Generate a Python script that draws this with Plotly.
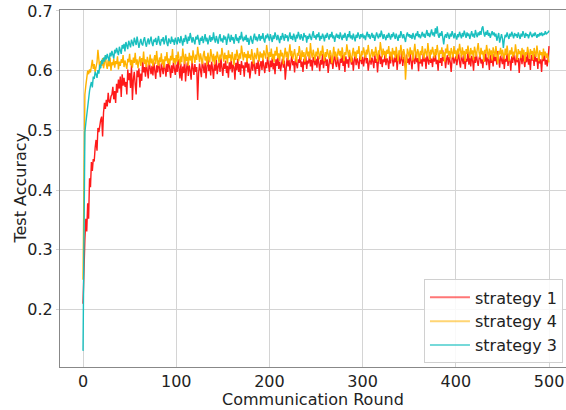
import plotly.graph_objects as go

rounds = list(range(0, 501))

strategy_1 = [
0.210, 0.283, 0.318, 0.352, 0.331, 0.378, 0.352, 0.420, 0.405, 0.447, 0.432, 0.452, 0.448, 0.471, 0.484, 0.466, 0.504, 0.497, 0.512, 0.518, 0.523, 0.490, 0.530, 0.546, 0.536,
0.551, 0.540, 0.563, 0.548, 0.546, 0.557, 0.560, 0.573, 0.552, 0.566, 0.546, 0.578, 0.563, 0.585, 0.570, 0.590, 0.556, 0.594, 0.575, 0.588, 0.573, 0.581, 0.560, 0.602, 0.584,
0.596, 0.571, 0.609, 0.551, 0.585, 0.598, 0.577, 0.560, 0.600, 0.589, 0.604, 0.572, 0.595, 0.583, 0.618, 0.597, 0.606, 0.590, 0.612, 0.599, 0.587, 0.615, 0.603, 0.594, 0.608,
0.592, 0.614, 0.600, 0.586, 0.609, 0.597, 0.617, 0.604, 0.589, 0.612, 0.601, 0.594, 0.616, 0.605, 0.590, 0.611, 0.598, 0.620, 0.603, 0.588, 0.609, 0.596, 0.614, 0.601, 0.593,
0.610, 0.598, 0.619, 0.604, 0.587, 0.612, 0.583, 0.607, 0.596, 0.621, 0.582, 0.603, 0.614, 0.591, 0.609, 0.600, 0.585, 0.616, 0.602, 0.593, 0.611, 0.598, 0.606, 0.551, 0.595,
0.612, 0.601, 0.589, 0.617, 0.604, 0.596, 0.613, 0.587, 0.608, 0.620, 0.599, 0.610, 0.592, 0.615, 0.603, 0.586, 0.611, 0.600, 0.618, 0.594, 0.607, 0.613, 0.598, 0.621, 0.605,
0.591, 0.612, 0.603, 0.617, 0.596, 0.608, 0.588, 0.614, 0.602, 0.619, 0.597, 0.610, 0.606, 0.585, 0.613, 0.601, 0.620, 0.598, 0.611, 0.593, 0.616, 0.604, 0.609, 0.590, 0.614,
0.605, 0.619, 0.597, 0.612, 0.587, 0.608, 0.615, 0.600, 0.622, 0.606, 0.594, 0.613, 0.603, 0.618, 0.591, 0.609, 0.616, 0.601, 0.620, 0.607, 0.596, 0.614, 0.604, 0.623, 0.610,
0.598, 0.617, 0.606, 0.621, 0.602, 0.613, 0.594, 0.619, 0.608, 0.625, 0.603, 0.615, 0.599, 0.611, 0.620, 0.605, 0.617, 0.585, 0.612, 0.622, 0.607, 0.618, 0.600, 0.614, 0.626,
0.609, 0.616, 0.597, 0.621, 0.611, 0.604, 0.619, 0.613, 0.627, 0.606, 0.615, 0.598, 0.620, 0.610, 0.624, 0.603, 0.617, 0.612, 0.629, 0.607, 0.618, 0.600, 0.623, 0.614, 0.609,
0.620, 0.605, 0.625, 0.613, 0.599, 0.618, 0.610, 0.628, 0.604, 0.616, 0.622, 0.608, 0.619, 0.596, 0.614, 0.626, 0.611, 0.621, 0.603, 0.617, 0.630, 0.612, 0.606, 0.623, 0.615,
0.601, 0.620, 0.613, 0.627, 0.608, 0.618, 0.598, 0.624, 0.612, 0.619, 0.605, 0.629, 0.615, 0.610, 0.622, 0.600, 0.617, 0.626, 0.609, 0.621, 0.614, 0.603, 0.625, 0.616, 0.611,
0.623, 0.607, 0.619, 0.630, 0.612, 0.621, 0.600, 0.617, 0.626, 0.610, 0.622, 0.615, 0.604, 0.628, 0.613, 0.620, 0.597, 0.618, 0.631, 0.611, 0.624, 0.606, 0.619, 0.614, 0.627,
0.609, 0.621, 0.616, 0.603, 0.625, 0.612, 0.630, 0.618, 0.607, 0.622, 0.614, 0.628, 0.601, 0.619, 0.626, 0.611, 0.617, 0.633, 0.608, 0.623, 0.615, 0.605, 0.627, 0.613, 0.620,
0.610, 0.629, 0.616, 0.602, 0.624, 0.618, 0.611, 0.632, 0.614, 0.621, 0.599, 0.626, 0.612, 0.619, 0.607, 0.628, 0.615, 0.622, 0.603, 0.625, 0.617, 0.610, 0.631, 0.613, 0.620,
0.606, 0.624, 0.615, 0.629, 0.611, 0.618, 0.600, 0.627, 0.613, 0.621, 0.608, 0.634, 0.616, 0.622, 0.604, 0.619, 0.626, 0.610, 0.623, 0.614, 0.598, 0.620, 0.628, 0.612, 0.617,
0.624, 0.609, 0.621, 0.630, 0.614, 0.605, 0.626, 0.618, 0.611, 0.628, 0.603, 0.620, 0.615, 0.632, 0.610, 0.622, 0.607, 0.625, 0.617, 0.600, 0.623, 0.613, 0.629, 0.616, 0.608,
0.621, 0.627, 0.612, 0.619, 0.604, 0.624, 0.615, 0.631, 0.609, 0.622, 0.618, 0.601, 0.626, 0.613, 0.620, 0.607, 0.628, 0.616, 0.623, 0.610, 0.633, 0.614, 0.605, 0.625, 0.619,
0.611, 0.627, 0.603, 0.620, 0.615, 0.629, 0.608, 0.622, 0.617, 0.600, 0.624, 0.613, 0.630, 0.618, 0.609, 0.626, 0.614, 0.621, 0.596, 0.619, 0.625, 0.611, 0.628, 0.616, 0.606,
0.623, 0.614, 0.632, 0.610, 0.620, 0.601, 0.626, 0.617, 0.624, 0.608, 0.629, 0.615, 0.621, 0.603, 0.627, 0.612, 0.619, 0.598, 0.622, 0.616, 0.630, 0.610, 0.618, 0.607, 0.621,
0.641]

strategy_4 = [
0.250, 0.455, 0.560, 0.575, 0.592, 0.600, 0.594, 0.602, 0.597, 0.606, 0.618, 0.603, 0.611, 0.598, 0.607, 0.614, 0.635, 0.609, 0.602, 0.616, 0.608, 0.621, 0.604, 0.613, 0.625,
0.610, 0.603, 0.618, 0.607, 0.622, 0.600, 0.614, 0.609, 0.620, 0.605, 0.616, 0.611, 0.624, 0.602, 0.615, 0.608, 0.619, 0.613, 0.626, 0.606, 0.617, 0.611, 0.603, 0.620, 0.614,
0.628, 0.609, 0.618, 0.605, 0.622, 0.613, 0.630, 0.610, 0.619, 0.604, 0.616, 0.624, 0.608, 0.621, 0.614, 0.632, 0.611, 0.619, 0.606, 0.623, 0.615, 0.609, 0.627, 0.612, 0.620,
0.607, 0.618, 0.626, 0.611, 0.633, 0.615, 0.608, 0.622, 0.614, 0.629, 0.610, 0.619, 0.605, 0.624, 0.616, 0.631, 0.612, 0.620, 0.609, 0.625, 0.617, 0.636, 0.613, 0.621, 0.610,
0.626, 0.615, 0.632, 0.618, 0.609, 0.624, 0.614, 0.637, 0.619, 0.611, 0.628, 0.616, 0.623, 0.608, 0.630, 0.617, 0.625, 0.612, 0.634, 0.620, 0.613, 0.627, 0.618, 0.640, 0.621,
0.614, 0.629, 0.619, 0.611, 0.626, 0.633, 0.617, 0.624, 0.609, 0.630, 0.620, 0.614, 0.636, 0.622, 0.615, 0.628, 0.610, 0.625, 0.618, 0.632, 0.621, 0.613, 0.627, 0.619, 0.638,
0.623, 0.615, 0.630, 0.619, 0.626, 0.612, 0.634, 0.621, 0.627, 0.616, 0.631, 0.622, 0.609, 0.628, 0.618, 0.635, 0.624, 0.616, 0.629, 0.620, 0.642, 0.625, 0.617, 0.631, 0.622,
0.628, 0.614, 0.633, 0.621, 0.627, 0.618, 0.636, 0.623, 0.611, 0.630, 0.624, 0.619, 0.638, 0.626, 0.615, 0.632, 0.622, 0.629, 0.617, 0.634, 0.625, 0.620, 0.643, 0.627, 0.618,
0.631, 0.623, 0.637, 0.619, 0.628, 0.614, 0.633, 0.625, 0.640, 0.621, 0.629, 0.616, 0.635, 0.624, 0.630, 0.611, 0.627, 0.638, 0.622, 0.632, 0.617, 0.629, 0.644, 0.624, 0.633,
0.619, 0.628, 0.636, 0.622, 0.614, 0.630, 0.625, 0.641, 0.627, 0.618, 0.634, 0.623, 0.631, 0.615, 0.628, 0.639, 0.624, 0.632, 0.620, 0.646, 0.629, 0.621, 0.635, 0.626, 0.617,
0.632, 0.624, 0.638, 0.627, 0.619, 0.633, 0.625, 0.642, 0.628, 0.616, 0.631, 0.623, 0.636, 0.626, 0.620, 0.634, 0.629, 0.612, 0.627, 0.640, 0.624, 0.632, 0.618, 0.630, 0.637,
0.625, 0.633, 0.621, 0.639, 0.628, 0.616, 0.631, 0.626, 0.644, 0.630, 0.622, 0.635, 0.627, 0.614, 0.629, 0.638, 0.624, 0.632, 0.619, 0.634, 0.628, 0.641, 0.625, 0.618, 0.633,
0.626, 0.639, 0.630, 0.621, 0.635, 0.627, 0.643, 0.631, 0.617, 0.628, 0.636, 0.623, 0.632, 0.625, 0.640, 0.629, 0.615, 0.634, 0.627, 0.648, 0.630, 0.622, 0.637, 0.626, 0.633,
0.620, 0.635, 0.628, 0.641, 0.624, 0.632, 0.618, 0.638, 0.627, 0.633, 0.621, 0.640, 0.629, 0.616, 0.634, 0.626, 0.643, 0.631, 0.619, 0.636, 0.628, 0.585, 0.624, 0.637, 0.630,
0.622, 0.639, 0.627, 0.634, 0.617, 0.632, 0.645, 0.628, 0.621, 0.636, 0.630, 0.615, 0.633, 0.626, 0.641, 0.629, 0.620, 0.637, 0.631, 0.624, 0.646, 0.630, 0.618, 0.635, 0.627,
0.640, 0.629, 0.621, 0.636, 0.626, 0.643, 0.632, 0.617, 0.634, 0.628, 0.639, 0.623, 0.631, 0.614, 0.637, 0.629, 0.644, 0.625, 0.633, 0.620, 0.638, 0.630, 0.622, 0.641, 0.628,
0.634, 0.619, 0.637, 0.627, 0.645, 0.631, 0.622, 0.639, 0.626, 0.633, 0.616, 0.636, 0.628, 0.642, 0.630, 0.621, 0.638, 0.627, 0.634, 0.618, 0.640, 0.629, 0.624, 0.636, 0.646,
0.630, 0.622, 0.638, 0.627, 0.633, 0.615, 0.635, 0.628, 0.643, 0.631, 0.620, 0.637, 0.626, 0.634, 0.617, 0.639, 0.629, 0.623, 0.641, 0.630, 0.612, 0.633, 0.627, 0.638, 0.624,
0.635, 0.629, 0.619, 0.637, 0.626, 0.642, 0.631, 0.616, 0.634, 0.627, 0.639, 0.622, 0.632, 0.626, 0.644, 0.630, 0.618, 0.636, 0.628, 0.633, 0.621, 0.638, 0.627, 0.635, 0.615,
0.631, 0.626, 0.640, 0.629, 0.620, 0.636, 0.627, 0.633, 0.618, 0.638, 0.630, 0.623, 0.642, 0.628, 0.616, 0.634, 0.626, 0.631, 0.619, 0.637, 0.625, 0.632, 0.621, 0.629, 0.618,
0.614]

strategy_3 = [
0.131, 0.420, 0.497, 0.512, 0.528, 0.541, 0.552, 0.566, 0.575, 0.581, 0.572, 0.590, 0.586, 0.598, 0.594, 0.588, 0.601, 0.595, 0.610, 0.604, 0.618, 0.611, 0.622, 0.615, 0.626,
0.619, 0.628, 0.621, 0.616, 0.630, 0.624, 0.633, 0.627, 0.620, 0.635, 0.629, 0.638, 0.631, 0.626, 0.640, 0.634, 0.628, 0.643, 0.637, 0.645, 0.632, 0.648, 0.641, 0.636, 0.650,
0.644, 0.639, 0.652, 0.646, 0.641, 0.655, 0.648, 0.643, 0.657, 0.650, 0.638, 0.647, 0.653, 0.645, 0.642, 0.651, 0.656, 0.646, 0.640, 0.649, 0.654, 0.644, 0.650, 0.657, 0.646,
0.641, 0.652, 0.648, 0.655, 0.643, 0.650, 0.658, 0.647, 0.642, 0.653, 0.649, 0.656, 0.644, 0.651, 0.659, 0.646, 0.641, 0.654, 0.650, 0.645, 0.657, 0.648, 0.652, 0.643, 0.655,
0.649, 0.644, 0.656, 0.651, 0.646, 0.658, 0.650, 0.642, 0.654, 0.648, 0.660, 0.652, 0.645, 0.657, 0.650, 0.663, 0.653, 0.647, 0.656, 0.649, 0.644, 0.657, 0.652, 0.660, 0.648,
0.643, 0.655, 0.650, 0.658, 0.646, 0.653, 0.661, 0.649, 0.655, 0.644, 0.652, 0.659, 0.648, 0.656, 0.651, 0.664, 0.653, 0.647, 0.658, 0.650, 0.645, 0.656, 0.661, 0.649, 0.654,
0.647, 0.659, 0.652, 0.657, 0.643, 0.650, 0.662, 0.654, 0.648, 0.660, 0.651, 0.656, 0.645, 0.653, 0.661, 0.650, 0.655, 0.646, 0.658, 0.652, 0.665, 0.654, 0.649, 0.657, 0.651,
0.660, 0.648, 0.655, 0.643, 0.652, 0.658, 0.650, 0.645, 0.656, 0.662, 0.651, 0.657, 0.649, 0.654, 0.661, 0.650, 0.658, 0.653, 0.663, 0.652, 0.647, 0.659, 0.654, 0.662, 0.656,
0.650, 0.661, 0.655, 0.648, 0.659, 0.653, 0.664, 0.657, 0.651, 0.660, 0.654, 0.646, 0.658, 0.652, 0.663, 0.656, 0.650, 0.661, 0.655, 0.659, 0.649, 0.657, 0.664, 0.653, 0.658,
0.651, 0.662, 0.656, 0.648, 0.660, 0.654, 0.665, 0.657, 0.652, 0.661, 0.655, 0.650, 0.663, 0.656, 0.659, 0.647, 0.658, 0.653, 0.662, 0.656, 0.651, 0.660, 0.666, 0.655, 0.659,
0.652, 0.661, 0.656, 0.664, 0.650, 0.658, 0.653, 0.662, 0.657, 0.649, 0.660, 0.655, 0.663, 0.658, 0.652, 0.661, 0.656, 0.665, 0.654, 0.659, 0.648, 0.657, 0.662, 0.655, 0.660,
0.653, 0.664, 0.657, 0.651, 0.660, 0.655, 0.663, 0.658, 0.650, 0.661, 0.656, 0.666, 0.654, 0.659, 0.652, 0.662, 0.657, 0.649, 0.660, 0.655, 0.664, 0.658, 0.653, 0.661, 0.656,
0.662, 0.654, 0.659, 0.651, 0.660, 0.665, 0.656, 0.661, 0.653, 0.658, 0.663, 0.655, 0.660, 0.650, 0.657, 0.664, 0.658, 0.654, 0.662, 0.656, 0.667, 0.659, 0.653, 0.661, 0.657,
0.651, 0.660, 0.655, 0.663, 0.658, 0.652, 0.661, 0.656, 0.664, 0.659, 0.653, 0.662, 0.657, 0.650, 0.660, 0.655, 0.666, 0.658, 0.654, 0.661, 0.656, 0.648, 0.659, 0.664, 0.657,
0.661, 0.655, 0.660, 0.653, 0.663, 0.657, 0.652, 0.662, 0.658, 0.666, 0.656, 0.661, 0.654, 0.659, 0.665, 0.657, 0.662, 0.655, 0.660, 0.668, 0.658, 0.663, 0.656, 0.661, 0.669,
0.659, 0.664, 0.657, 0.671, 0.662, 0.674, 0.660, 0.655, 0.663, 0.658, 0.666, 0.652, 0.644, 0.657, 0.661, 0.655, 0.664, 0.659, 0.653, 0.662, 0.657, 0.666, 0.660, 0.654, 0.663,
0.658, 0.652, 0.661, 0.656, 0.665, 0.659, 0.654, 0.663, 0.657, 0.667, 0.660, 0.655, 0.664, 0.658, 0.662, 0.653, 0.660, 0.666, 0.657, 0.662, 0.655, 0.668, 0.661, 0.656, 0.664,
0.659, 0.666, 0.660, 0.671, 0.674, 0.663, 0.657, 0.665, 0.660, 0.668, 0.658, 0.663, 0.655, 0.661, 0.666, 0.659, 0.664, 0.657, 0.662, 0.650, 0.658, 0.663, 0.647, 0.656, 0.661,
0.654, 0.638, 0.652, 0.660, 0.656, 0.664, 0.658, 0.653, 0.662, 0.657, 0.665, 0.659, 0.654, 0.663, 0.658, 0.661, 0.655, 0.664, 0.659, 0.653, 0.662, 0.657, 0.666, 0.660, 0.655,
0.663, 0.658, 0.661, 0.654, 0.660, 0.665, 0.659, 0.656, 0.662, 0.658, 0.664, 0.660, 0.655, 0.661, 0.657, 0.663, 0.659, 0.664, 0.658, 0.662, 0.660, 0.666, 0.661, 0.663, 0.664,
0.667]

series_names = ["strategy 1", "strategy 4", "strategy 3"]
series_colors = ["#ff1a1a", "#ffb300", "#1abfbf"]
legend_colors = ["rgba(255,26,26,0.6)", "rgba(255,179,0,0.55)", "rgba(26,191,191,0.6)"]
series_values = [strategy_1, strategy_4, strategy_3]

x_ticks = [0, 100, 200, 300, 400, 500]
y_ticks = [0.2, 0.3, 0.4, 0.5, 0.6, 0.7]

fig = go.Figure()
for name, color, vals in zip(series_names, series_colors, series_values):
    fig.add_trace(go.Scatter(
        x=rounds[:len(vals)], y=vals, mode="lines", name=name,
        line=dict(color=color, width=1.4), legendgroup=name, showlegend=False,
    ))
# legend-only entries (lighter line samples, as in the reference legend)
for name, lcolor in zip(series_names, legend_colors):
    fig.add_trace(go.Scatter(
        x=[None], y=[None], mode="lines", name=name,
        line=dict(color=lcolor, width=2), legendgroup=name, showlegend=True,
    ))

font_family = "DejaVu Sans"
fig.update_layout(
    width=566, height=410,
    margin=dict(l=60, r=0, t=10, b=43, autoexpand=False),
    paper_bgcolor="white", plot_bgcolor="white",
    font=dict(family=font_family, size=16, color="#222222"),
    showlegend=True,
    legend=dict(
        x=0.994, y=0.01, xanchor="right", yanchor="bottom",
        bgcolor="rgba(255,255,255,0.85)", bordercolor="#d0d0d0", borderwidth=1,
        font=dict(family=font_family, size=16, color="#222222"),
        tracegroupgap=0, itemwidth=40,
    ),
    xaxis=dict(
        range=[-24.7, 518.2], tickvals=x_ticks, ticktext=[str(v) for v in x_ticks],
        showgrid=True, gridcolor="#d4d4d4", gridwidth=1, automargin=False,
        showline=True, linecolor="#888888", linewidth=1, mirror=True,
        zeroline=False, ticks="",
        tickfont=dict(size=16),
    ),
    yaxis=dict(
        range=[0.104, 0.7015], tickvals=y_ticks, ticktext=[f"{v:.1f}" for v in y_ticks],
        showgrid=True, gridcolor="#d4d4d4", gridwidth=1, automargin=False,
        showline=True, linecolor="#888888", linewidth=1, mirror=True,
        zeroline=False, ticks="outside", ticklen=3, tickcolor="#d4d4d4",
        tickfont=dict(size=16),
    ),
    annotations=[
        dict(text="Communication Round", xref="paper", yref="paper",
             x=0.5, y=-0.092, xanchor="center", yanchor="middle",
             showarrow=False, font=dict(family=font_family, size=16, color="#222222")),
        dict(text="Test Accuracy", xref="paper", yref="paper",
             x=-0.079, y=0.5, xanchor="center", yanchor="middle", textangle=-90,
             showarrow=False, font=dict(family=font_family, size=16, color="#222222")),
    ],
)

fig.write_html(
    "out.html",
    config={"displayModeBar": False},
    post_script="document.body.style.margin='0px';document.body.style.overflow='hidden';",
)
